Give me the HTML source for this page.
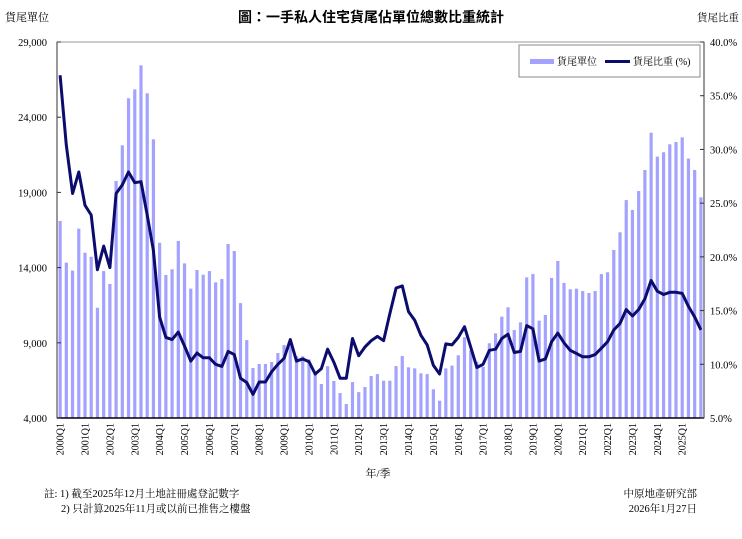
<!DOCTYPE html>
<html><head><meta charset="utf-8"><style>
body{margin:0;background:#fff;width:742px;height:534px;overflow:hidden}
svg text{font-family:"Liberation Serif","Noto Serif CJK SC","Noto Sans CJK TC",serif}
</style></head><body>
<svg id="chart" width="742" height="534" xmlns="http://www.w3.org/2000/svg">
<text x="371" y="22" text-anchor="middle" font-size="14" font-weight="bold" style="font-family:'Liberation Sans','Noto Sans CJK TC',sans-serif">圖：一手私人住宅貨尾佔單位總數比重統計</text>
<text x="5" y="21" font-size="11">貨尾單位</text>
<text x="697" y="21" font-size="10.5">貨尾比重</text>
<g id="plot"></g>
<g>
<rect x="519" y="45" width="181" height="32" fill="#fff" stroke="#888" stroke-width="1"/>
<rect x="530" y="59" width="24" height="5" fill="#a3a3ff"/>
<text x="557" y="65" font-size="10">貨尾單位</text>
<line x1="605" y1="61.5" x2="630" y2="61.5" stroke="#0c0c6e" stroke-width="3"/>
<text x="633" y="65" font-size="10">貨尾比重 (%)</text>
</g>
<text x="378" y="477" text-anchor="middle" font-size="11">年/季</text>
<text x="44" y="497" font-size="10.5">註: 1) 截至2025年12月土地註冊處登記數字</text>
<text x="61" y="512" font-size="10.5">2) 只計算2025年11月或以前已推售之樓盤</text>
<text x="697" y="497" text-anchor="end" font-size="10.5">中原地產研究部</text>
<text x="697" y="512" text-anchor="end" font-size="10.5">2026年1月27日</text>
</svg>
<script>
const startYear = 2000;
const units = [17100,14330,13800,16590,14990,14720,11330,13770,12910,19760,22130,25260,25850,27450,25590,22530,
15650,13510,13890,15770,14280,12600,13840,13530,13770,13020,13240,15570,15100,11640,9180,7320,
7590,7590,7720,8320,8850,9100,8100,8100,7900,6990,6260,7450,6460,5660,4930,6390,
5720,6060,6790,6920,6480,6480,7450,8120,7370,7300,6970,6920,5910,5150,7300,7480,8170,9370,
8500,7740,7410,8970,9630,10740,11360,9850,10360,13350,13570,10470,10850,13310,14440,12980,
12560,12600,12440,12310,12440,13570,13690,15170,16350,18490,17830,19090,20490,22970,21380,21670,
22200,22350,22660,21250,20490,18670];
const ratio = [36.9,30.4,25.9,27.9,24.8,23.9,18.8,21.0,19.0,25.9,26.7,27.9,26.9,27.0,23.9,20.6,
14.4,12.5,12.3,13.0,11.7,10.3,11.05,10.6,10.6,10.0,9.8,11.2,10.9,8.7,8.3,7.2,
8.35,8.35,9.3,10.0,10.56,12.3,10.3,10.5,10.24,9.1,9.6,11.4,10.2,8.7,8.7,12.4,
10.8,11.6,12.2,12.6,12.2,14.7,17.1,17.3,14.9,14.1,12.7,11.8,9.9,9.1,11.9,11.8,12.5,13.5,
11.6,9.7,10.0,11.3,11.4,12.4,12.8,11.1,11.2,13.6,13.3,10.3,10.5,12.1,12.9,12.0,
11.3,11.0,10.7,10.7,10.9,11.5,12.1,13.2,13.8,15.1,14.5,15.1,16.1,17.8,16.8,16.5,
16.7,16.7,16.6,15.4,14.4,13.2];
const leftTicks = [4000,9000,14000,19000,24000,29000];
const rightTicks = [5,10,15,20,25,30,35,40];

const L=57,R=704,T=42,B=418;
const n = units.length;
const step = (R-L)/n;
const xPos = i => L + step*(i+0.5);
const yL = v => B - (v-4000)/(29000-4000)*(B-T);
const yR = v => B - (v-5)/(40-5)*(B-T);
const NS="http://www.w3.org/2000/svg";
const g=document.getElementById('plot');
function mk(tag,attrs){const e=document.createElementNS(NS,tag);for(const k in attrs)e.setAttribute(k,attrs[k]);g.appendChild(e);return e;}

const frame=mk('rect',{x:L,y:T,width:R-L,height:B-T,fill:'none',stroke:'#999','stroke-width':1});



units.forEach((v,i)=>{
  const y=yL(v);
  const b=mk('rect',{x:xPos(i)-1.6,y:y,width:3.2,height:B-y,fill:'#a3a3ff'});
  
  
});
const pts=ratio.map((v,i)=>xPos(i).toFixed(1)+','+yR(v).toFixed(1)).join(' ');
const line=mk('polyline',{points:pts,fill:'none',stroke:'#0c0c6e','stroke-width':3,'stroke-linejoin':'round'});



const axl=mk('line',{x1:L,y1:T,x2:L,y2:B,stroke:'#333'});


const axr=mk('line',{x1:R,y1:T,x2:R,y2:B,stroke:'#333'});


const axb=mk('line',{x1:L,y1:B,x2:R,y2:B,stroke:'#000','stroke-width':1.5});



leftTicks.forEach(v=>{
  const y=yL(v);
  mk('line',{x1:L,y1:y,x2:L+4,y2:y,stroke:'#333'});
  const t=mk('text',{x:L-10,y:y+4,'text-anchor':'end','font-size':10.5});
  t.textContent=v.toLocaleString('en-US');
  
  
});
rightTicks.forEach(v=>{
  const y=yR(v);
  mk('line',{x1:R-4,y1:y,x2:R,y2:y,stroke:'#333'});
  const t=mk('text',{x:R+6,y:y+4,'font-size':10.5});
  t.textContent=v.toFixed(1)+'%';
  
  
});
for(let i=0;i<n;i+=4){
  const x=xPos(i);
  const t=mk('text',{x:0,y:0,'text-anchor':'end','font-size':10,transform:`translate(${x+3.5},${B+5}) rotate(-90)`});
  t.textContent=(startYear+i/4)+'Q1';
  
  
}
</script>
</body></html>
